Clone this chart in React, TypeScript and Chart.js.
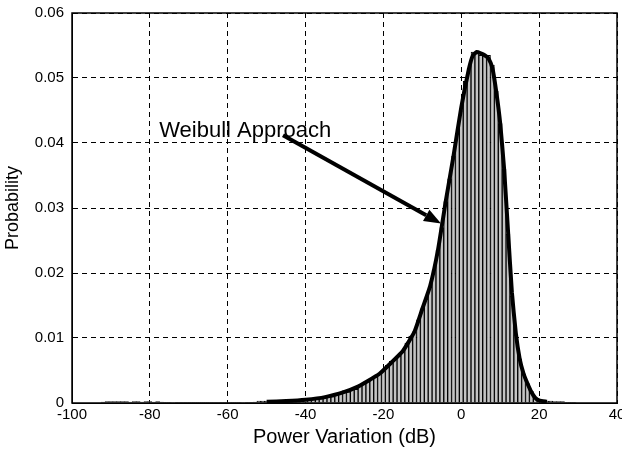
import React, { useEffect, useRef } from "react";
import { Chart, registerables } from "chart.js";

Chart.register(...registerables);

// Histogram bin centres (dB)
const binCenters: number[] = [
  -92, -91, -90, -89, -88, -87, -86, -85, -84, -83,
  -82, -81, -80, -79, -78, -77, -76, -75, -74, -73,
  -72, -71, -70, -69, -68, -67, -66, -65, -64, -63,
  -62, -61, -60, -59, -58, -57, -56, -55, -54, -53,
  -52, -51, -50, -49, -48, -47, -46, -45, -44, -43,
  -42, -41, -40, -39, -38, -37, -36, -35, -34, -33,
  -32, -31, -30, -29, -28, -27, -26, -25, -24, -23,
  -22, -21, -20, -19, -18, -17, -16, -15, -14, -13,
  -12, -11, -10, -9, -8, -7, -6, -5, -4, -3,
  -2, -1, 0, 1, 2, 3, 4, 5, 6, 7,
  8, 9, 10, 11, 12, 13, 14, 15, 16, 17,
  18, 19, 20, 21, 22, 23, 24, 25, 26, 27,
  28, 29,
];

// Histogram probabilities
const binProbability: number[] = [
  0.00015, 0.0002, 0.0002, 0.0002, 0.0002, 0.0002, 0.0002, 0.00015, 0.0002, 0.0002,
  0.00015, 0.0002, 0.0002, 0.00015, 0.0002, 0.00015, 0.0001, 0.0001, 0.00008, 0.00005,
  0.00005, 0.00005, 0.00005, 0.00005, 0.00005, 0.00005, 0.00005, 0.00005, 0.00005, 0.00005,
  0.00005, 0.00005, 0.00005, 0.00005, 0.00005, 0.00005, 0.00008, 0.0001, 0.0001, 0.00015,
  0.0003, 0.0003, 0.0003, 0.0002, 0.0002, 0.0003, 0.0002, 0.0003, 0.0003, 0.0004,
  0.0004, 0.0004, 0.0005, 0.0006, 0.0006, 0.0007, 0.0008, 0.0009, 0.0011, 0.001,
  0.0014, 0.0016, 0.0019, 0.0017, 0.0022, 0.0021, 0.0028, 0.003, 0.0034, 0.0038,
  0.004, 0.0046, 0.005, 0.0058, 0.0064, 0.0067, 0.0072, 0.008, 0.0092, 0.0103,
  0.011, 0.0128, 0.0145, 0.016, 0.0178, 0.0205, 0.0235, 0.027, 0.031, 0.0345,
  0.038, 0.0415, 0.045, 0.0495, 0.0515, 0.054, 0.054, 0.0535, 0.0535, 0.0535,
  0.052, 0.048, 0.043, 0.036, 0.026, 0.0165, 0.0105, 0.0068, 0.0045, 0.003,
  0.0018, 0.0008, 0.0004, 0.0003, 0.0003, 0.0003, 0.0002, 0.0002, 0.0002, 0.0001,
  0.0001, 0.0001,
];

// Weibull approach curve
const weibullX: number[] = [
  -50, -45, -40, -35, -30, -27, -24, -21, -18, -15,
  -12, -10, -8, -6, -4, -2, 0, 2, 3, 4,
  5, 6, 7, 8, 9, 10, 11, 12, 13, 14,
  15, 16, 17, 18, 19, 20, 22,
];
const weibullY: number[] = [
  0.0002, 0.0003, 0.0005, 0.0009, 0.0017, 0.0024, 0.0034, 0.0045, 0.0062, 0.008,
  0.011, 0.0145, 0.018, 0.0235, 0.031, 0.038, 0.0455, 0.0515, 0.0535, 0.054,
  0.0538, 0.0535, 0.053, 0.0515, 0.0478, 0.043, 0.036, 0.0265, 0.017, 0.0108,
  0.0068, 0.0045, 0.003, 0.0017, 0.0008, 0.0004, 0.0002,
];

const xTickValues: number[] = [-100, -80, -60, -40, -20, 0, 20, 40];
const xTickLabels: string[] = ["-100", "-80", "-60", "-40", "-20", "0", "20", "40"];
const yTickValues: number[] = [0, 0.01, 0.02, 0.03, 0.04, 0.05, 0.06];
const yTickLabels: string[] = ["0", "0.01", "0.02", "0.03", "0.04", "0.05", "0.06"];

const xTitle = "Power Variation (dB)";
const yTitle = "Probability";
const annotationText = "Weibull Approach";
const annotationTextAt = { x: -77.6, y: 0.041 };
const arrowFrom = { x: -45.8, y: 0.0412 };
const arrowTo = { x: -5.2, y: 0.0276 };

const FONT = "'Liberation Sans', Arial, sans-serif";

const framePlugin = {
  id: "frameAndAnnotation",
  afterDatasetsDraw(chart: any) {
    const { ctx, chartArea, scales } = chart;
    const xs = scales.x;
    const ys = scales.y;
    ctx.save();
    // annotation text
    ctx.fillStyle = "#000";
    ctx.font = `22px ${FONT}`;
    ctx.textBaseline = "alphabetic";
    ctx.textAlign = "left";
    ctx.fillText(
      annotationText,
      xs.getPixelForValue(annotationTextAt.x),
      ys.getPixelForValue(annotationTextAt.y)
    );
    // arrow
    const x1 = xs.getPixelForValue(arrowFrom.x);
    const y1 = ys.getPixelForValue(arrowFrom.y);
    const x2 = xs.getPixelForValue(arrowTo.x);
    const y2 = ys.getPixelForValue(arrowTo.y);
    const ang = Math.atan2(y2 - y1, x2 - x1);
    const headLen = 17;
    const headW = 6.5;
    const bx = x2 - headLen * Math.cos(ang);
    const by = y2 - headLen * Math.sin(ang);
    ctx.strokeStyle = "#000";
    ctx.lineWidth = 4;
    ctx.beginPath();
    ctx.moveTo(x1, y1);
    ctx.lineTo(bx, by);
    ctx.stroke();
    ctx.beginPath();
    ctx.moveTo(x2, y2);
    ctx.lineTo(bx + headW * Math.sin(ang), by - headW * Math.cos(ang));
    ctx.lineTo(bx - headW * Math.sin(ang), by + headW * Math.cos(ang));
    ctx.closePath();
    ctx.fill();
    // frame
    ctx.lineWidth = 1.5;
    ctx.strokeRect(
      chartArea.left,
      chartArea.top,
      chartArea.right - chartArea.left,
      chartArea.bottom - chartArea.top
    );
    ctx.restore();
  },
};

export default function App() {
  const canvasRef = useRef<HTMLCanvasElement | null>(null);

  useEffect(() => {
    if (!canvasRef.current) return;
    const barData = binCenters.map((x, i) => ({ x, y: binProbability[i] }));
    const lineData = weibullX.map((x, i) => ({ x, y: weibullY[i] }));

    const chart = new Chart(canvasRef.current, {
      type: "bar",
      data: {
        datasets: [
          {
            type: "line",
            label: "Weibull",
            data: lineData,
            borderColor: "#000",
            borderWidth: 4,
            pointRadius: 0,
            tension: 0.15,
            fill: false,
            order: 0,
          } as any,
          {
            type: "bar",
            label: "Histogram",
            data: barData,
            backgroundColor: "#c4c4c4",
            borderColor: "#000000",
            borderWidth: 1,
            barPercentage: 1,
            categoryPercentage: 1,
            order: 1,
          } as any,
        ],
      },
      options: {
        animation: false,
        responsive: false,
        devicePixelRatio: 1,
        layout: { padding: { top: 13, right: 5, left: 0, bottom: 0 } },
        plugins: {
          legend: { display: false },
          tooltip: { enabled: false },
        },
        font: { family: FONT },
        scales: {
          x: {
            type: "linear",
            min: -100,
            max: 40,
            offset: false,
            afterFit: (s: any) => {
              s.height = 49;
              s.paddingLeft = 0;
              s.paddingRight = 0;
            },
            afterBuildTicks: (s: any) => {
              s.ticks = xTickValues.map((v) => ({ value: v }));
            },
            ticks: {
              color: "#000",
              font: { family: FONT, size: 15 },
              padding: 3,
              maxRotation: 0,
              autoSkip: false,
              callback: (v: any) => {
                const i = xTickValues.indexOf(Number(v));
                return i >= 0 ? xTickLabels[i] : "";
              },
            },
            grid: {
              color: "#000",
              lineWidth: 1,
              drawTicks: false,
              offset: false,
            },
            border: { display: true, color: "#000", width: 1, dash: [5, 4] },
            title: {
              display: true,
              text: xTitle,
              color: "#000",
              font: { family: FONT, size: 20 },
              padding: { top: 0, bottom: 3 },
            },
          },
          y: {
            type: "linear",
            min: 0,
            max: 0.06,
            afterFit: (s: any) => {
              s.width = 72;
              s.paddingTop = 0;
              s.paddingBottom = 0;
            },
            afterBuildTicks: (s: any) => {
              s.ticks = yTickValues.map((v) => ({ value: v }));
            },
            ticks: {
              color: "#000",
              font: { family: FONT, size: 15 },
              padding: 8,
              autoSkip: false,
              callback: (v: any) => {
                const i = yTickValues.findIndex((t) => Math.abs(t - Number(v)) < 1e-9);
                return i >= 0 ? yTickLabels[i] : "";
              },
            },
            grid: {
              color: "#000",
              lineWidth: 1,
              drawTicks: false,
            },
            border: { display: true, color: "#000", width: 1, dash: [5, 4] },
            title: {
              display: true,
              text: yTitle,
              color: "#000",
              font: { family: FONT, size: 18 },
              padding: { top: 2, bottom: 0 },
            },
          },
        },
      } as any,
      plugins: [framePlugin],
    });
    return () => chart.destroy();
  }, []);

  return (
    <div style={{ position: "fixed", left: 0, top: 0, width: 622, height: 452, background: "#fff" }}>
      <canvas ref={canvasRef} width={622} height={452} style={{ display: "block" }} />
    </div>
  );
}
